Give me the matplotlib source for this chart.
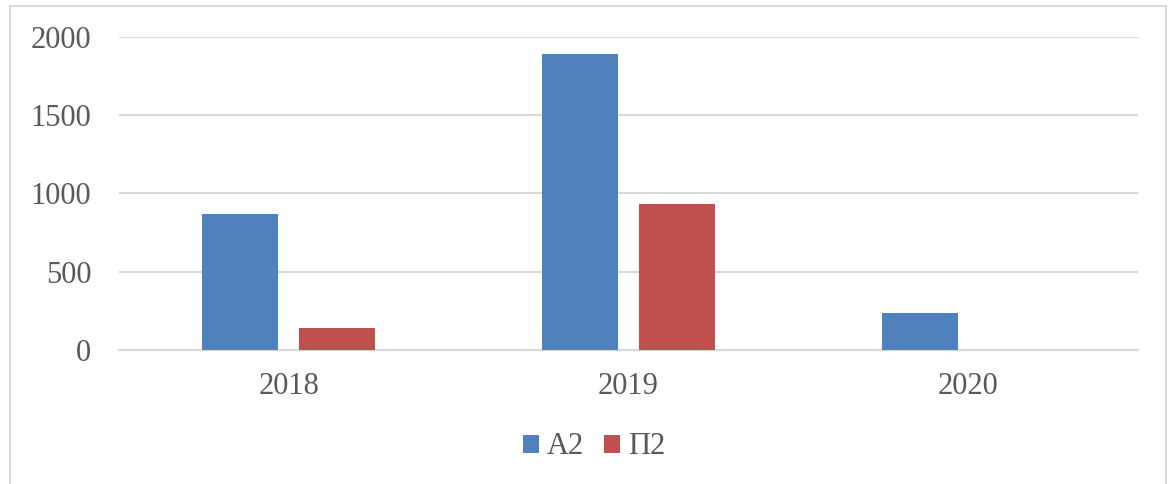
import matplotlib
matplotlib.use("Agg")

import matplotlib.pyplot as plt
import numpy as np
from matplotlib.patches import Rectangle

years = ["2018", "2019", "2020"]
a2_values = [868, 1888, 238]
p2_values = [138, 930, 0]
series_names = ["А2", "П2"]

BLUE = "#4F81BD"
RED = "#C0504D"
TEXT = "#595959"
GRID = "#D9D9D9"

plt.rcParams["font.family"] = ["Liberation Serif", "DejaVu Serif"]

fig = plt.figure(figsize=(11.71, 4.84), dpi=100)
ax = fig.add_axes([119 / 1171, 1 - 350 / 484, 1019 / 1171, 313.3 / 484])

x = np.arange(len(years))
width = 0.2235
offset = 0.1426
ax.bar(x - offset, a2_values, width, color=BLUE, label=series_names[0], zorder=3)
ax.bar(x + offset, p2_values, width, color=RED, label=series_names[1], zorder=3)

ax.set_xlim(-0.5, len(years) - 0.5)
ax.set_ylim(0, 2000)
ax.set_yticks([0, 500, 1000, 1500, 2000])
ax.set_xticks(x)
ax.set_xticklabels(years)

ax.grid(True, axis="y", color=GRID, linewidth=1.5, zorder=0)
ax.tick_params(axis="y", length=0, pad=20, labelsize=22, labelcolor=TEXT)
ax.tick_params(axis="x", length=0, pad=16, labelsize=22, labelcolor=TEXT)
for side in ["top", "right", "left"]:
    ax.spines[side].set_visible(False)
ax.spines["bottom"].set_color(GRID)
ax.spines["bottom"].set_linewidth(1.5)

leg = fig.legend(
    loc="center",
    bbox_to_anchor=(594 / 1171, 1 - 447 / 484),
    ncol=2,
    frameon=False,
    fontsize=22,
    handlelength=0.52,
    handleheight=0.52,
    handletextpad=0.26,
    columnspacing=0.65,
)
for t in leg.get_texts():
    t.set_color(TEXT)

# light chart border
fig.add_artist(
    Rectangle(
        (10 / 1171, -0.05),
        1156 / 1171,
        1.05 - 6 / 484,
        transform=fig.transFigure,
        fill=False,
        edgecolor=GRID,
        linewidth=1.5,
    )
)

fig.savefig("out.png", dpi=100)
